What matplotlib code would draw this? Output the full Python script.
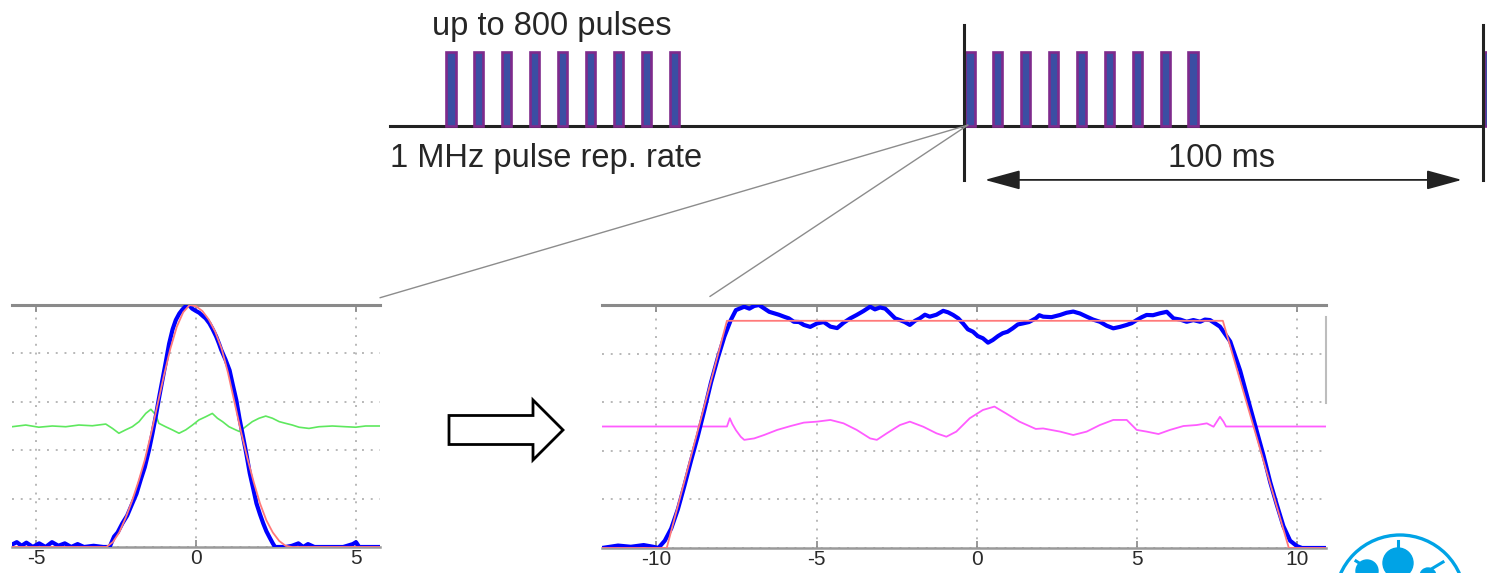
import matplotlib
matplotlib.use("Agg")
import matplotlib.pyplot as plt
from matplotlib.patches import Rectangle, FancyArrow, Circle, ConnectionPatch

plt.rcParams['font.family'] = ['Liberation Sans', 'DejaVu Sans']
plt.rcParams['axes.unicode_minus'] = False

# ---- timing diagram (time axis in units of the 1 us pulse spacing) ----
pulse_index = list(range(9))
burst_number = [-1, 0, 1]
burst_period = 18.6          # 100 ms, drawn schematically
pulse_width = 0.33

# ---- single pulse profile (left) ----
gauss_x = [-5.75, -5.6, -5.45, -5.3, -5.1, -4.9, -4.7, -4.5, -4.3, -4.1,
           -3.9, -3.7, -3.5, -3.2, -2.9, -2.7, -2.56, -2.45, -2.3, -2.15,
           -1.99, -1.86, -1.73, -1.6, -1.47, -1.36, -1.26, -1.15, -1.05, -0.95,
           -0.84, -0.73, -0.63, -0.52, -0.42, -0.3, -0.22, -0.12, -0.01, 0.1,
           0.21, 0.3, 0.42, 0.52, 0.63, 0.72, 0.79, 0.92, 1.05, 1.15,
           1.26, 1.36, 1.47, 1.58, 1.68, 1.79, 1.89, 2.0, 2.1, 2.2,
           2.31, 2.4, 2.47, 2.8, 3.0, 3.2, 3.35, 3.5, 3.7, 4.1,
           4.6, 4.9, 5.0, 5.1, 5.75]
gauss_meas = [0.01, 0.02, 0.005, 0.018, 0.0, 0.015, 0.0, 0.02, 0.005, 0.015,
              0.0, 0.012, 0.0, 0.005, 0.0, 0.0, 0.043, 0.06, 0.098, 0.13,
              0.18, 0.22, 0.277, 0.33, 0.40, 0.47, 0.538, 0.62, 0.69, 0.76,
              0.84, 0.90, 0.938, 0.965, 0.982, 0.998, 1.0, 0.985, 0.976, 0.968,
              0.955, 0.945, 0.924, 0.90, 0.87, 0.84, 0.814, 0.775, 0.73, 0.67,
              0.607, 0.53, 0.456, 0.38, 0.305, 0.24, 0.18, 0.135, 0.098, 0.065,
              0.037, 0.015, 0.0, 0.0, 0.005, 0.015, 0.0, 0.012, 0.0, 0.0,
              0.0, 0.012, 0.02, 0.0, 0.0]
gauss_fit_x = [-5.75, -3.0, -2.8, -2.6, -2.4, -2.2, -2.0, -1.8, -1.6, -1.4,
               -1.2, -1.0, -0.8, -0.6, -0.4, -0.2, 0.0, 0.2, 0.4, 0.6,
               0.8, 1.0, 1.2, 1.4, 1.6, 1.8, 2.0, 2.2, 2.4, 2.6,
               2.8, 3.0, 5.75]
gauss_fit = [0.0, 0.0, 0.0, 0.02, 0.06, 0.12, 0.19, 0.27, 0.36, 0.47,
             0.59, 0.71, 0.82, 0.91, 0.97, 1.0, 0.995, 0.975, 0.94, 0.89,
             0.82, 0.72, 0.60, 0.48, 0.37, 0.27, 0.18, 0.11, 0.06, 0.025,
             0.005, 0.0, 0.0]
gauss_res_x = [-5.75, -5.32, -4.91, -4.49, -4.07, -3.66, -3.24, -2.82, -2.61, -2.41,
               -2.2, -1.99, -1.78, -1.57, -1.41, -1.26, -1.16, -0.95, -0.74, -0.53,
               -0.32, -0.11, 0.09, 0.3, 0.51, 0.67, 0.83, 1.03, 1.24, 1.36,
               1.55, 1.76, 1.97, 2.18, 2.39, 2.6, 2.8, 3.01, 3.22, 3.53,
               3.84, 4.26, 4.68, 4.99, 5.3, 5.75]
gauss_res = [0.497, 0.504, 0.495, 0.5, 0.497, 0.504, 0.501, 0.508, 0.490, 0.470,
             0.484, 0.497, 0.518, 0.552, 0.569, 0.546, 0.511, 0.497, 0.484, 0.470,
             0.484, 0.504, 0.525, 0.538, 0.552, 0.532, 0.518, 0.497, 0.484, 0.477,
             0.497, 0.518, 0.532, 0.541, 0.532, 0.518, 0.511, 0.504, 0.495, 0.490,
             0.497, 0.5, 0.497, 0.495, 0.5, 0.5]

# ---- shaped flat-top pulse (right) ----
flat_x = [-11.7, -11.2, -10.8, -10.4, -10.1, -9.94, -9.74, -9.54, -9.33, -9.12,
          -8.92, -8.71, -8.5, -8.3, -8.09, -7.88, -7.68, -7.52, -7.26, -7.1,
          -6.95, -6.8, -6.64, -6.48, -6.33, -6.18, -6.02, -5.87, -5.71, -5.55,
          -5.4, -5.2, -4.99, -4.78, -4.57, -4.36, -4.16, -3.95, -3.75, -3.54,
          -3.33, -3.18, -3.02, -2.86, -2.71, -2.55, -2.4, -2.25, -2.09, -1.93,
          -1.78, -1.62, -1.47, -1.26, -1.05, -0.9, -0.74, -0.58, -0.43, -0.28,
          -0.12, 0.03, 0.19, 0.35, 0.5, 0.66, 0.81, 0.96, 1.12, 1.28,
          1.43, 1.63, 1.84, 1.95, 2.07, 2.33, 2.6, 2.8, 3.01, 3.22,
          3.43, 3.63, 3.84, 4.05, 4.26, 4.47, 4.68, 4.83, 4.99, 5.15,
          5.3, 5.5, 5.72, 5.93, 6.14, 6.35, 6.55, 6.76, 6.97, 7.12,
          7.28, 7.43, 7.59, 7.91, 8.22, 8.53, 8.74, 8.95, 9.16, 9.36,
          9.57, 9.78, 9.99, 10.15, 10.9]
flat_meas = [0.0, 0.01, 0.005, 0.012, 0.005, 0.0, 0.03, 0.08, 0.16, 0.26,
             0.36, 0.46, 0.57, 0.68, 0.78, 0.87, 0.938, 0.979, 0.993, 0.985,
             0.996, 1.0, 0.986, 0.972, 0.966, 0.96, 0.952, 0.945, 0.931, 0.93,
             0.918, 0.91, 0.924, 0.93, 0.911, 0.905, 0.927, 0.945, 0.959, 0.975,
             0.993, 0.982, 0.99, 0.985, 0.966, 0.945, 0.938, 0.93, 0.918, 0.935,
             0.945, 0.96, 0.952, 0.96, 0.976, 0.97, 0.959, 0.945, 0.924, 0.9,
             0.89, 0.872, 0.863, 0.845, 0.856, 0.872, 0.884, 0.89, 0.904, 0.92,
             0.924, 0.93, 0.945, 0.958, 0.952, 0.95, 0.959, 0.968, 0.973, 0.965,
             0.952, 0.94, 0.931, 0.915, 0.904, 0.91, 0.918, 0.925, 0.938, 0.95,
             0.959, 0.958, 0.966, 0.972, 0.945, 0.94, 0.931, 0.938, 0.931, 0.94,
             0.938, 0.925, 0.911, 0.85, 0.73, 0.58, 0.48, 0.38, 0.27, 0.18,
             0.09, 0.03, 0.008, 0.0, 0.0]
flat_fit_x = [-11.7, -9.68, -7.8, 7.68, 9.74, 10.9]
flat_fit = [0.0, 0.0, 0.935, 0.935, 0.0, 0.0]
flat_res_x = [-11.7, -7.8, -7.71, -7.63, -7.52, -7.37, -7.26, -6.95, -6.64, -6.23,
              -5.81, -5.4, -4.99, -4.57, -4.16, -3.75, -3.33, -3.12, -2.81, -2.4,
              -2.09, -1.67, -1.26, -0.95, -0.64, -0.22, 0.19, 0.55, 0.91, 1.33,
              1.84, 2.07, 2.6, 3.01, 3.43, 3.84, 4.26, 4.68, 4.99, 5.3,
              5.67, 6.03, 6.45, 6.86, 7.18, 7.39, 7.59, 7.7, 7.78, 10.9]
flat_res = [0.5, 0.5, 0.534, 0.51, 0.485, 0.458, 0.445, 0.451, 0.465, 0.486,
            0.502, 0.516, 0.52, 0.527, 0.513, 0.486, 0.451, 0.445, 0.472, 0.506,
            0.52, 0.499, 0.472, 0.458, 0.479, 0.534, 0.568, 0.582, 0.554, 0.52,
            0.49, 0.492, 0.479, 0.465, 0.479, 0.506, 0.527, 0.527, 0.486, 0.479,
            0.469, 0.486, 0.502, 0.506, 0.513, 0.499, 0.54, 0.52, 0.5, 0.5]

left_ticks = [-5, 0, 5]
right_ticks = [-10, -5, 0, 5, 10]
y_grid = [0, 0.2, 0.4, 0.6, 0.8, 1.0]

text_col = '#262626'
W, H = 1487, 573
fig = plt.figure(figsize=(W / 100, H / 100), dpi=100)

# canvas in pixel units for the decorations
ax_px = fig.add_axes([0, 0, 1, 1])
ax_px.set_xlim(0, W)
ax_px.set_ylim(H, 0)
ax_px.axis('off')

# timing diagram axis
ax_t = fig.add_axes([0, 0, 1, 1])
ax_t.set_xlim(-34.55, 18.75)
ax_t.set_ylim(-6.04, 1.70)
ax_t.axis('off')

ax_t.plot([-20.57, burst_period], [0, 0], color='#222222', lw=2.2, zorder=2)
for b in burst_number:
    for k in pulse_index:
        ax_t.add_patch(Rectangle((b * burst_period + k + 0.05, 0), pulse_width, 1.0,
                                 facecolor='#3b4ea3', edgecolor='#7f2a8c', lw=1.9, zorder=3))
for xv in [0, burst_period]:
    ax_t.plot([xv, xv], [-0.73, 1.365], color='#222222', lw=2.2, zorder=4)
ax_t.annotate('', xy=(0.75, -0.73), xytext=(burst_period - 0.75, -0.73),
              arrowprops=dict(arrowstyle='<|-|>,head_length=1.1,head_width=0.3',
                              color='#222222', lw=1.3, shrinkA=0, shrinkB=0,
                              mutation_scale=20))
ax_t.text(-19.07, 1.23, 'up to 800 pulses', fontsize=23.5, color=text_col,
          ha='left', va='baseline')
ax_t.text(-20.57, -0.554, '1 MHz pulse rep. rate', fontsize=23.5, color=text_col,
          ha='left', va='baseline')
ax_t.text(burst_period / 2 - 0.05, -0.554, '100 ms', fontsize=23.5, color=text_col,
          ha='center', va='baseline')


def style_axes(ax, xticks, xlim):
    ax.set_xlim(xlim)
    ax.set_ylim(0, 1)
    ax.set_xticks(xticks)
    ax.set_yticks(y_grid)
    ax.set_yticklabels([])
    ax.tick_params(axis='y', length=0)
    ax.tick_params(axis='x', direction='in', top=True, length=5, width=1.2,
                   color='#888888', labelsize=15, labelcolor='#2a2a2a', pad=1.5)
    ax.grid(True, linestyle=(0, (1, 3.5)), color='#b8b8b8', lw=1.4)
    for s in ['left', 'right']:
        ax.spines[s].set_visible(False)
    ax.spines['top'].set_color('#8a8a8a')
    ax.spines['top'].set_linewidth(2.2)
    ax.spines['bottom'].set_color('#9a9a9a')
    ax.spines['bottom'].set_linewidth(1.8)


ax1 = fig.add_axes([12 / W, (H - 547) / H, 368 / W, 242 / H])
style_axes(ax1, left_ticks, (-5.75, 5.75))
ax1.plot(gauss_res_x, gauss_res, color='#5ee85e', lw=1.2, zorder=3)
ax1.plot(gauss_x, gauss_meas, color='#0000ff', lw=3.0, zorder=4,
         solid_joinstyle='round')
ax1.plot(gauss_fit_x, gauss_fit, color='#ff7a7a', lw=1.3, zorder=5)

ax2 = fig.add_axes([602 / W, (H - 548) / H, 724 / W, 243 / H])
style_axes(ax2, right_ticks, (-11.7, 10.9))
ax2.plot(flat_res_x, flat_res, color='#ff5cff', lw=1.3, zorder=3)
ax2.plot(flat_x, flat_meas, color='#0000ff', lw=3.0, zorder=4,
         solid_joinstyle='round')
ax2.plot(flat_fit_x, flat_fit, color='#ff7a7a', lw=1.3, zorder=5)
ax2.plot([1, 1], [0.597, 0.95], transform=ax2.transAxes, color='#bdbdbd',
         lw=1.5, clip_on=False)

# zoom lines from the first pulse of the burst to the two profiles
for axB, xyB in [(ax1, (1.0, 1.03)), (ax2, (0.149, 1.035))]:
    con = ConnectionPatch(xyA=(0.14, 0.01), coordsA=ax_t.transData,
                          xyB=xyB, coordsB=axB.transAxes,
                          color='#8c8c8c', lw=1.0, zorder=1)
    fig.add_artist(con)

# block arrow between the profiles
ax_px.add_patch(FancyArrow(449, 430, 84, 0, width=29, head_width=60, head_length=30,
                           length_includes_head=False, facecolor='white',
                           edgecolor='black', lw=2.0))

# logo, cut by the lower edge
logo_col = '#00a3e6'
ax_px.add_patch(Circle((1400, 600), 65, fill=False, edgecolor=logo_col, lw=2.4))
ax_px.add_patch(Circle((1398, 563), 15, color=logo_col))
ax_px.plot([1398, 1398], [541, 552], color=logo_col, lw=2.2)
ax_px.add_patch(Circle((1367, 571), 11, color=logo_col))
ax_px.plot([1356, 1364], [561, 566], color=logo_col, lw=2.2)
ax_px.add_patch(Circle((1428, 576), 8, color=logo_col))
ax_px.plot([1428, 1443], [571, 562], color=logo_col, lw=2.2)

fig.savefig('out.png', dpi=100)
